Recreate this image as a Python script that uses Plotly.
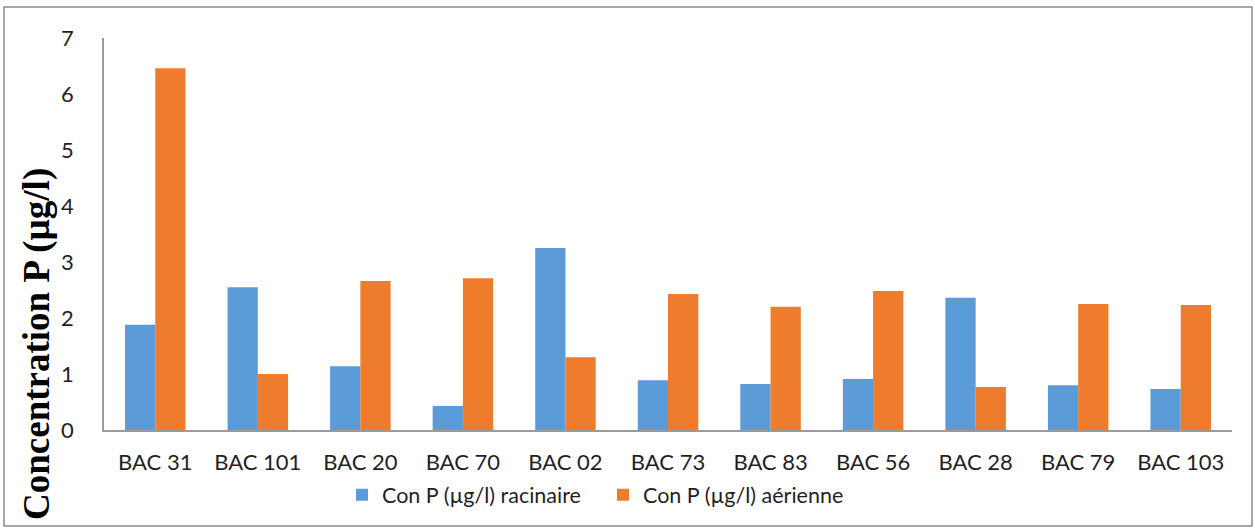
import plotly.graph_objects as go

# Phosphorus concentration per accession, roots vs. aerial parts
categories = ["BAC 31", "BAC 101", "BAC 20", "BAC 70", "BAC 02", "BAC 73",
              "BAC 83", "BAC 56", "BAC 28", "BAC 79", "BAC 103"]
racinaire = [1.88, 2.55, 1.14, 0.43, 3.25, 0.89, 0.82, 0.91, 2.36, 0.80, 0.73]
aerienne = [6.46, 1.00, 2.66, 2.71, 1.30, 2.43, 2.20, 2.48, 0.77, 2.25, 2.23]

series_names = ["Con P (µg/l) racinaire", "Con P (µg/l) aérienne"]
y_ticks = [0, 1, 2, 3, 4, 5, 6, 7]

W, H = 1255, 529
L, R, T, B = 104, 23, 38, 99
pw, ph = W - L - R, H - T - B

tick_font = dict(family="Lato, Open Sans, sans-serif", size=22, color="#1F1F1F")
legend_font = dict(family="Lato, Open Sans, sans-serif", size=21.5, color="#1F1F1F")

fig = go.Figure()
fig.add_trace(go.Bar(x=categories, y=racinaire, name=series_names[0],
                     marker=dict(color="#5A9BD8", line=dict(width=0))))
fig.add_trace(go.Bar(x=categories, y=aerienne, name=series_names[1],
                     marker=dict(color="#EF7B2C", line=dict(width=0))))

fig.update_layout(
    width=W, height=H,
    margin=dict(l=L, r=R, t=T, b=B, autoexpand=False),
    paper_bgcolor="white", plot_bgcolor="white",
    barmode="group", bargap=0.41, bargroupgap=0,
    showlegend=True,
    legend=dict(orientation="h", x=(342 - L) / pw, xanchor="left", y=-0.165, yanchor="middle",
                font=legend_font, itemwidth=30, entrywidth=216, tracegroupgap=0,
                bgcolor="rgba(0,0,0,0)"),
    xaxis=dict(showline=True, linecolor="#9A9A9A", linewidth=2, showgrid=False,
               ticks="", tickfont=tick_font, ticklabelstandoff=12, fixedrange=True),
    yaxis=dict(range=[0, 7], tickvals=y_ticks, showline=True, linecolor="#9A9A9A",
               linewidth=1.5, showgrid=False, zeroline=False, ticks="",
               tickfont=tick_font, ticklabelstandoff=24),
)

# Y axis title, set lower than the axis centre
fig.add_annotation(
    text="<b>Concentration P (µg/l)</b>", textangle=-90,
    xref="paper", yref="paper",
    x=(37 - L) / pw, y=(H - B - 344) / ph, xanchor="center", yanchor="middle",
    showarrow=False,
    font=dict(family="Liberation Serif, Times New Roman, serif", size=37, color="black"),
)

# Outer chart border
fig.add_shape(type="rect", xref="paper", yref="paper",
              x0=(4 - L) / pw, x1=(1252 - L) / pw,
              y0=(H - B - 526) / ph, y1=(H - B - 7) / ph,
              line=dict(color="#8C8C8C", width=1.5), fillcolor="rgba(0,0,0,0)")

fig.write_html("out.html")
